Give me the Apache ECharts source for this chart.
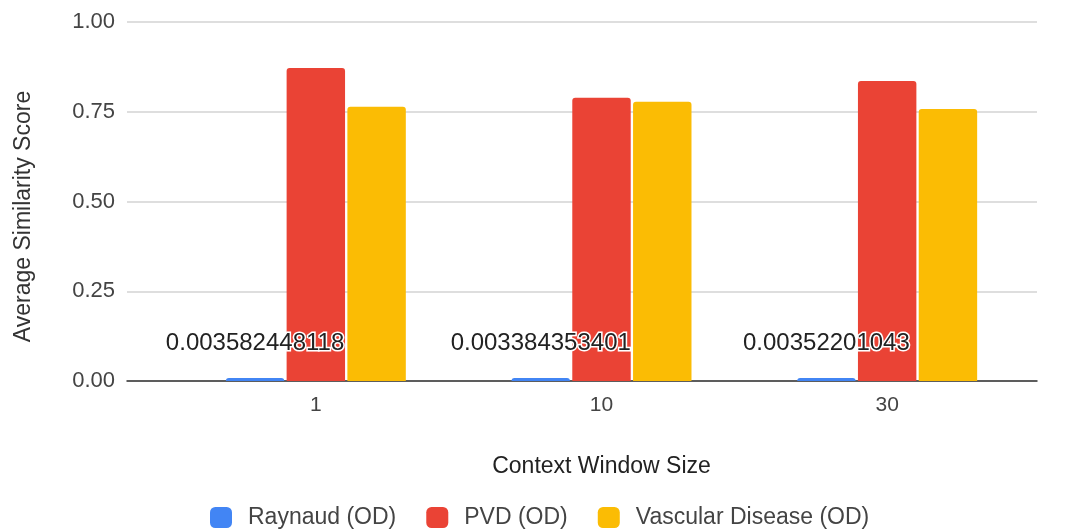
<!DOCTYPE html>
<html>
<head>
<meta charset="utf-8">
<script src="https://cdn.jsdelivr.net/npm/echarts@6/dist/echarts.min.js"></script>
<style>
html,body{margin:0;padding:0;background:#fff;}
#chart{width:1068px;height:529px;}
</style>
</head>
<body>
<div id="chart"></div>
<script>
const categories = ['1', '10', '30'];
const raynaud = [0.003582448118, 0.003384353401, 0.00352201043];
const pvd = [0.872, 0.789, 0.836];
const vascular = [0.764, 0.778, 0.758];
const seriesNames = ['Raynaud (OD)', 'PVD (OD)', 'Vascular Disease (OD)'];
const yTicks = [0, 0.25, 0.5, 0.75, 1];

const FONT = 'Arial, "Liberation Sans", sans-serif';
const chart = echarts.init(document.getElementById('chart'));
const hiddenParts = {
  axisLine: { show: false }, axisTick: { show: false },
  axisLabel: { show: false }, splitLine: { show: false }
};
const barBase = {
  type: 'bar',
  xAxisIndex: 1,
  yAxisIndex: 1,
  barGap: '4%',
  barCategoryGap: '37%',
  itemStyle: { borderRadius: [3, 3, 0, 0] }
};
chart.setOption({
  animation: false,
  color: ['#4285F4', '#EA4335', '#FBBC04'],
  textStyle: { fontFamily: FONT },
  grid: [
    { left: 127, right: 31, top: 22, bottom: 148 },
    { left: 173, right: 38, top: 22, bottom: 148 },
    { left: 127, right: 31, top: 52, bottom: 148 }
  ],
  legend: {
    data: seriesNames,
    top: 506,
    left: 210,
    padding: 0,
    icon: 'roundRect',
    itemWidth: 22,
    itemHeight: 21,
    itemGap: 30,
    textStyle: { fontSize: 23, lineHeight: 21, color: '#444', fontFamily: FONT, padding: [0, 0, 0, 11] }
  },
  xAxis: [
    {
      type: 'category', gridIndex: 0, data: categories,
      axisLine: { show: true, lineStyle: { color: '#333', width: 1.5 } },
      axisTick: { show: false }, axisLabel: { show: false }, splitLine: { show: false }
    },
    {
      type: 'category', gridIndex: 1, data: categories,
      name: 'Context Window Size',
      nameLocation: 'middle',
      nameGap: 74,
      nameTextStyle: { fontSize: 23, color: '#222', fontFamily: FONT },
      axisLine: { show: false },
      axisTick: { show: false },
      axisLabel: { fontSize: 21, color: '#444', margin: 14, fontFamily: FONT }
    },
    Object.assign({ type: 'category', gridIndex: 2, data: categories }, hiddenParts)
  ],
  yAxis: [
    {
      type: 'value', gridIndex: 0, min: 0, max: 1, interval: 0.25,
      axisLine: { show: false },
      axisTick: { show: false },
      splitLine: { lineStyle: { color: '#d3d3d3', width: 1.5 } },
      axisLabel: {
        fontSize: 22, color: '#444', margin: 12, fontFamily: FONT,
        formatter: v => yTicks.includes(v) ? v.toFixed(2) : ''
      }
    },
    Object.assign({ type: 'value', gridIndex: 1, min: 0, max: 1, interval: 0.25 }, hiddenParts),
    Object.assign({
      type: 'value', gridIndex: 2, min: 0, max: 1,
      name: 'Average Similarity Score',
      nameLocation: 'middle',
      nameGap: 92,
      nameTextStyle: { fontSize: 23, color: '#333', fontFamily: FONT }
    }, hiddenParts)
  ],
  series: [
    Object.assign({}, barBase, {
      name: seriesNames[0],
      data: raynaud,
      barMinHeight: 3,
      label: {
        show: true,
        position: 'top',
        distance: 23,
        fontSize: 24,
        color: '#222',
        textBorderColor: '#fff',
        textBorderWidth: 3,
        fontFamily: FONT,
        formatter: p => String(p.value)
      },
      z: 3
    }),
    Object.assign({}, barBase, { name: seriesNames[1], data: pvd, z: 2 }),
    Object.assign({}, barBase, { name: seriesNames[2], data: vascular, z: 2 })
  ]
});
</script>
</body>
</html>
